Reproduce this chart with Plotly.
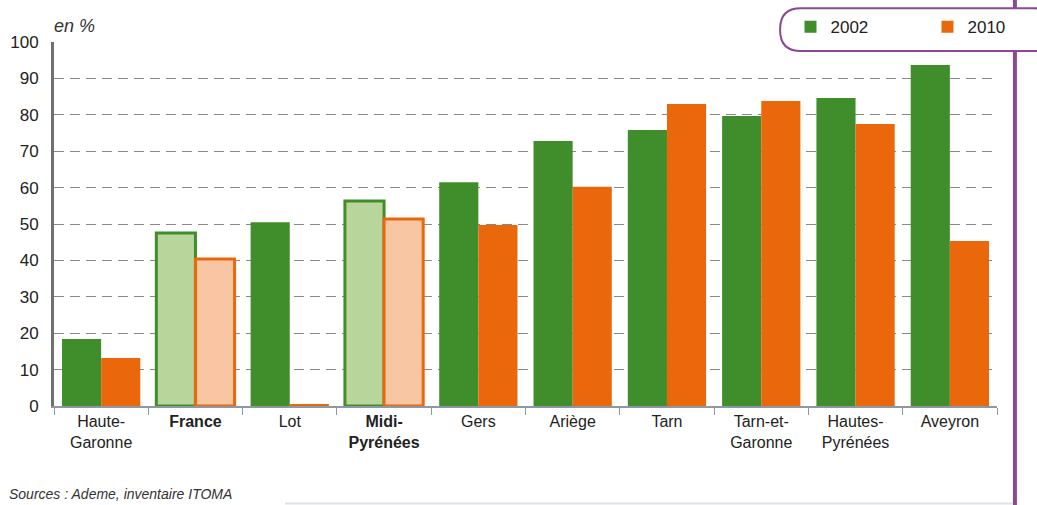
import plotly.graph_objects as go

categories = ["Haute-<br>Garonne", "<b>France</b>", "Lot", "<b>Midi-<br>Pyrénées</b>", "Gers",
              "Ariège", "Tarn", "Tarn-et-<br>Garonne", "Hautes-<br>Pyrénées", "Aveyron"]
values_2002 = [18.4, 47.5, 50.5, 56.3, 61.5, 72.8, 75.8, 79.7, 84.6, 93.7]
values_2010 = [13.2, 40.4, 0.5, 51.4, 49.7, 60.2, 83.0, 83.8, 77.5, 45.3]
highlight = [False, True, False, True, False, False, False, False, False, False]
y_ticks = [0, 10, 20, 30, 40, 50, 60, 70, 80, 90, 100]

GREEN = "#3f8e2b"
ORANGE = "#ea670c"
GREEN_L = "#b8d69c"
ORANGE_L = "#f8c6a2"

FONT = "Liberation Sans, Arial, sans-serif"

fig = go.Figure()
fig.add_trace(go.Bar(
    x=categories, y=values_2002, name="2002",
    marker=dict(color=[GREEN_L if h else GREEN for h in highlight],
                line=dict(color=GREEN, width=[3 if h else 0 for h in highlight])),
))
fig.add_trace(go.Bar(
    x=categories, y=values_2010, name="2010",
    marker=dict(color=[ORANGE_L if h else ORANGE for h in highlight],
                line=dict(color=ORANGE, width=[3 if h else 0 for h in highlight])),
))

# legend rounded box
x0, x1, y0, y1 = 0.770, 1.06, 0.975, 1.093
rx, ry = 0.022, 0.057
path = (f"M {x0+rx},{y0} L {x1-rx},{y0} Q {x1},{y0} {x1},{y0+ry} L {x1},{y1-ry} "
        f"Q {x1},{y1} {x1-rx},{y1} L {x0+rx},{y1} Q {x0},{y1} {x0},{y1-ry} "
        f"L {x0},{y0+ry} Q {x0},{y0} {x0+rx},{y0} Z")

shapes = [
    dict(type="line", xref="paper", yref="paper", x0=1.019, x1=1.019, y0=-0.3, y1=1.12,
         line=dict(color="#8a4a92", width=4), layer="above"),
    dict(type="path", xref="paper", yref="paper", path=path,
         fillcolor="white", line=dict(color="#8a4a92", width=2), layer="above"),
    dict(type="line", xref="paper", yref="paper", x0=0.245, x1=1.017, y0=-0.268, y1=-0.268,
         line=dict(color="#dde3e8", width=2)),
]

fig.update_layout(
    width=1037, height=505,
    margin=dict(l=54, r=40, t=42, b=99, autoexpand=False),
    paper_bgcolor="white", plot_bgcolor="white",
    barmode="group", bargap=0.17, bargroupgap=0,
    font=dict(family=FONT, size=16, color="#222"),
    showlegend=True,
    legend=dict(orientation="h", x=0.781, y=1.09, xanchor="left", yanchor="top",
                bgcolor="rgba(0,0,0,0)", font=dict(size=17, color="#222"),
                entrywidth=92, itemwidth=30, tracegroupgap=0),
    shapes=shapes,
    annotations=[
        dict(text="<i>en %</i>", xref="paper", yref="paper", x=-0.002, y=1.012,
             xanchor="left", yanchor="bottom", showarrow=False,
             font=dict(size=18, color="#333")),
        dict(text="<i>Sources : Ademe, inventaire ITOMA</i>", xref="paper", yref="paper",
             x=-0.05, y=-0.243, xanchor="left", yanchor="middle", showarrow=False,
             font=dict(size=14, color="#333")),
    ],
)

fig.update_yaxes(
    range=[0, 100], tickvals=y_ticks, ticktext=[str(v) for v in y_ticks],
    showgrid=True, gridcolor="#8a8a8a", gridwidth=1, griddash="10px,6px",
    showline=True, linecolor="#707070", linewidth=3,
    ticks="outside", ticklen=9, tickcolor="rgba(0,0,0,0)",
    zeroline=False, tickfont=dict(size=17, color="#222"),
)
fig.update_xaxes(
    showline=True, linecolor="#8e98a4", linewidth=1.5,
    ticks="outside", tickson="boundaries", ticklen=7, tickcolor="#8e98a4",
    showgrid=False, tickangle=0, tickfont=dict(size=16, color="#222"),
)

fig.write_html("out.html", config={"displayModeBar": False},
               post_script="document.body.style.margin='0';document.body.style.overflow='hidden';")
